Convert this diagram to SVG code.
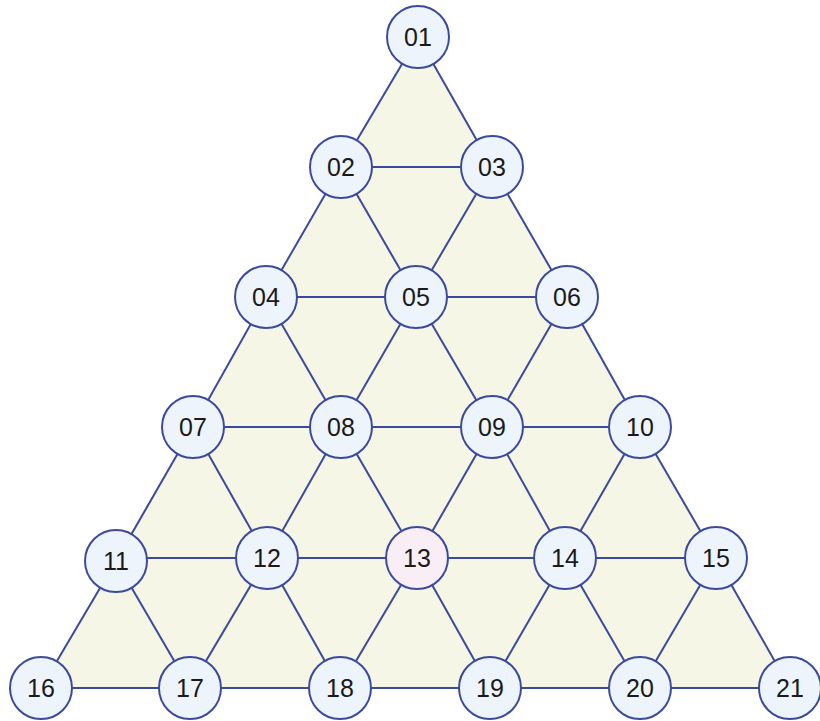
<svg xmlns="http://www.w3.org/2000/svg" width="820" height="721" viewBox="0 0 820 721">
<style>
.e{stroke:#3b4a9c;stroke-width:2;fill:none}
.n circle{fill:#eef4fc;stroke:#3b4a9c;stroke-width:2}
.n text{font-family:"Liberation Sans",Arial,sans-serif;font-size:25px;fill:#1a1a1a;text-anchor:middle;dominant-baseline:central}
#n13 circle{fill:#f9eef5}
</style>
<rect width="820" height="721" fill="#ffffff"/>
<polygon points="418,37 41,688 790,688" fill="#f6f6e6"/>
<g id="connectors">
<line class="e" x1="341" y1="167" x2="492" y2="167"/>
<line class="e" x1="266" y1="297" x2="567" y2="297"/>
<line class="e" x1="193" y1="427" x2="640" y2="427"/>
<line class="e" x1="116" y1="558" x2="716" y2="558"/>
<line class="e" x1="41" y1="688" x2="790" y2="688"/>
<line class="e" x1="418" y1="37" x2="341" y2="167"/>
<line class="e" x1="418" y1="37" x2="492" y2="167"/>
<line class="e" x1="341" y1="167" x2="266" y2="297"/>
<line class="e" x1="341" y1="167" x2="416" y2="297"/>
<line class="e" x1="492" y1="167" x2="416" y2="297"/>
<line class="e" x1="492" y1="167" x2="567" y2="297"/>
<line class="e" x1="266" y1="297" x2="193" y2="427"/>
<line class="e" x1="266" y1="297" x2="341" y2="427"/>
<line class="e" x1="416" y1="297" x2="341" y2="427"/>
<line class="e" x1="416" y1="297" x2="492" y2="427"/>
<line class="e" x1="567" y1="297" x2="492" y2="427"/>
<line class="e" x1="567" y1="297" x2="640" y2="427"/>
<line class="e" x1="193" y1="427" x2="116" y2="561"/>
<line class="e" x1="193" y1="427" x2="267" y2="558"/>
<line class="e" x1="341" y1="427" x2="267" y2="558"/>
<line class="e" x1="341" y1="427" x2="417" y2="558"/>
<line class="e" x1="492" y1="427" x2="417" y2="558"/>
<line class="e" x1="492" y1="427" x2="565" y2="558"/>
<line class="e" x1="640" y1="427" x2="565" y2="558"/>
<line class="e" x1="640" y1="427" x2="716" y2="558"/>
<line class="e" x1="116" y1="561" x2="41" y2="688"/>
<line class="e" x1="116" y1="561" x2="190" y2="688"/>
<line class="e" x1="267" y1="558" x2="190" y2="688"/>
<line class="e" x1="267" y1="558" x2="340" y2="688"/>
<line class="e" x1="417" y1="558" x2="340" y2="688"/>
<line class="e" x1="417" y1="558" x2="490" y2="688"/>
<line class="e" x1="565" y1="558" x2="490" y2="688"/>
<line class="e" x1="565" y1="558" x2="640" y2="688"/>
<line class="e" x1="716" y1="558" x2="640" y2="688"/>
<line class="e" x1="716" y1="558" x2="790" y2="688"/>
</g>
<g id="n01" class="n"><circle cx="418" cy="37" r="31"/><text x="418" y="37">01</text></g>
<g id="n02" class="n"><circle cx="341" cy="167" r="31"/><text x="341" y="167">02</text></g>
<g id="n03" class="n"><circle cx="492" cy="167" r="31"/><text x="492" y="167">03</text></g>
<g id="n04" class="n"><circle cx="266" cy="297" r="31"/><text x="266" y="297">04</text></g>
<g id="n05" class="n"><circle cx="416" cy="297" r="31"/><text x="416" y="297">05</text></g>
<g id="n06" class="n"><circle cx="567" cy="297" r="31"/><text x="567" y="297">06</text></g>
<g id="n07" class="n"><circle cx="193" cy="427" r="31"/><text x="193" y="427">07</text></g>
<g id="n08" class="n"><circle cx="341" cy="427" r="31"/><text x="341" y="427">08</text></g>
<g id="n09" class="n"><circle cx="492" cy="427" r="31"/><text x="492" y="427">09</text></g>
<g id="n10" class="n"><circle cx="640" cy="427" r="31"/><text x="640" y="427">10</text></g>
<g id="n11" class="n"><circle cx="116" cy="561" r="31"/><text x="116" y="561">11</text></g>
<g id="n12" class="n"><circle cx="267" cy="558" r="31"/><text x="267" y="558">12</text></g>
<g id="n13" class="n"><circle cx="417" cy="558" r="31"/><text x="417" y="558">13</text></g>
<g id="n14" class="n"><circle cx="565" cy="558" r="31"/><text x="565" y="558">14</text></g>
<g id="n15" class="n"><circle cx="716" cy="558" r="31"/><text x="716" y="558">15</text></g>
<g id="n16" class="n"><circle cx="41" cy="688" r="31"/><text x="41" y="688">16</text></g>
<g id="n17" class="n"><circle cx="190" cy="688" r="31"/><text x="190" y="688">17</text></g>
<g id="n18" class="n"><circle cx="340" cy="688" r="31"/><text x="340" y="688">18</text></g>
<g id="n19" class="n"><circle cx="490" cy="688" r="31"/><text x="490" y="688">19</text></g>
<g id="n20" class="n"><circle cx="640" cy="688" r="31"/><text x="640" y="688">20</text></g>
<g id="n21" class="n"><circle cx="790" cy="688" r="31"/><text x="790" y="688">21</text></g>
</svg>
